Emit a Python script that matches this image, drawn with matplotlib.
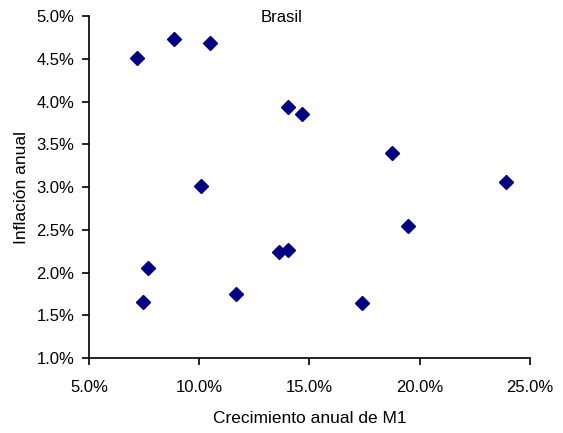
import matplotlib.pyplot as plt
from matplotlib.ticker import FuncFormatter

plt.rcParams['font.family'] = ['Liberation Sans', 'DejaVu Sans']

# crecimiento anual de M1 (%) y inflacion anual (%)
m1_growth = [7.18, 8.86, 10.49, 14.02, 14.66, 18.75, 23.90, 10.10,
             19.47, 7.68, 7.43, 11.69, 13.63, 14.02, 17.41]
inflation = [4.51, 4.73, 4.69, 3.94, 3.85, 3.40, 3.06, 3.01,
             2.55, 2.05, 1.66, 1.75, 2.24, 2.26, 1.65]


def pct(v, pos):
    return f"{v:.1f}%"


fig = plt.figure(figsize=(5.63, 4.33), dpi=100)
ax = fig.add_axes([0.158, 0.173, 0.783, 0.790])

ax.plot(m1_growth, inflation, linestyle='none', marker='D',
        markersize=7.5, color='#000080')

ax.set_xlim(5, 25)
ax.set_ylim(1, 5)
ax.set_xticks([5, 10, 15, 20, 25])
ax.set_yticks([1, 1.5, 2, 2.5, 3, 3.5, 4, 4.5, 5])
ax.xaxis.set_major_formatter(FuncFormatter(pct))
ax.yaxis.set_major_formatter(FuncFormatter(pct))

for side in ['top', 'right']:
    ax.spines[side].set_visible(False)
ax.spines['left'].set_linewidth(1.2)
ax.spines['bottom'].set_linewidth(1.2)
ax.tick_params(direction='out', length=5, width=1.2, labelsize=12)
ax.tick_params(axis='x', pad=11)
ax.tick_params(axis='y', pad=5.5)

ax.set_xlabel("Crecimiento anual de M1", fontsize=12.5, labelpad=11)
ax.set_ylabel("Inflación anual", fontsize=12.5, labelpad=5)
fig.text(0.5, 1 - 17 / 433, "Brasil", ha='center', va='center', fontsize=12)

fig.savefig("out.png", dpi=100)
